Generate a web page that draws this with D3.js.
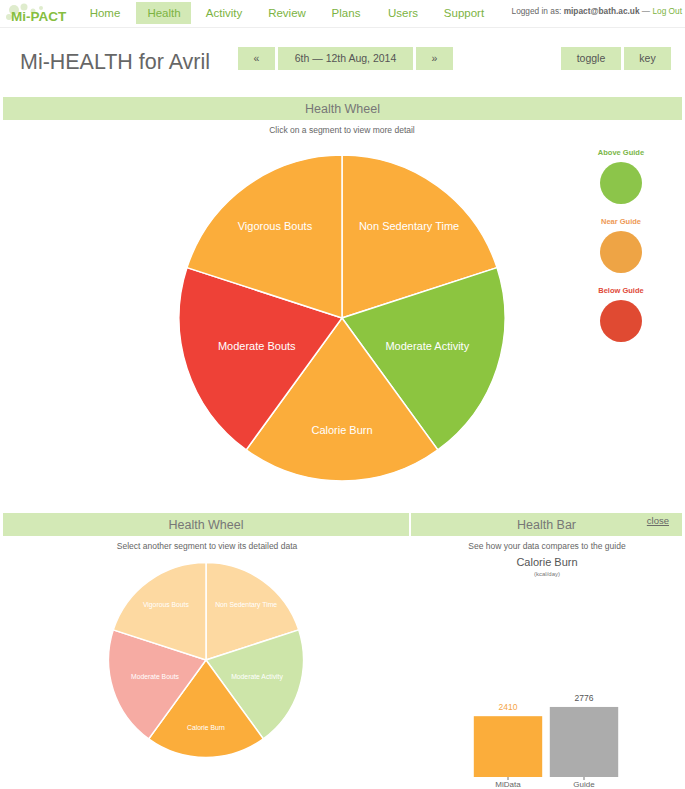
<!DOCTYPE html>
<html><head><meta charset="utf-8">
<script src="https://cdn.jsdelivr.net/npm/d3@7"></script>
<style>
html,body{margin:0;padding:0;background:#fff;}
svg{display:block;font-family:"Liberation Sans",Arial,sans-serif;}
</style></head><body>
<svg id="c" width="685" height="789"></svg>
<script>
// ---- data ----
const navItems = ["Home","Health","Activity","Review","Plans","Users","Support"];
const activeNav = "Health";
const segments = ["Non Sedentary Time","Moderate Activity","Calorie Burn","Moderate Bouts","Vigorous Bouts"];
const segmentStatus = ["near","above","near","below","near"];
const segmentWeights = [1,1,1,1,1];
const legendLabels = ["Above Guide","Near Guide","Below Guide"];
const legendKeys = ["above","near","below"];
const selectedSegment = "Calorie Burn";
const barCategories = ["MiData","Guide"];
const barValues = [2410, 2776];
const barUnit = "(kcal/day)";

// ---- styles ----
const full = {above:"#8cc540", near:"#fbad3b", below:"#ee4137"};
const pale = {above:"#cde5a9", near:"#fdd9a1", below:"#f6aba3"};
const legendCol = {above:"#8cc54a", near:"#eea445", below:"#e04a32"};
const legendText = {above:"#7ab648", near:"#ee9a55", below:"#e04a3a"};
const barCol = ["#fbad3b","#acacac"];
const barLabCol = ["#f5a446","#555"];
const green = "#d3e9b6";
const navGreen = "#7cb342";
const labelRadiusFactor = [0.7,0.55,0.69,0.55,0.7];

const svg = d3.select("#c");

// ---- nav ----
const logo = svg.append("g");
[[14,10,5],[24,7,3.5],[33,11,2.5],[41,8,2],[9,17,3]].forEach(d=>{
  logo.append("circle").attr("cx",d[0]).attr("cy",d[1]).attr("r",d[2]).attr("fill","#dfeccd");
});
logo.append("text").attr("x",11).attr("y",21).attr("font-size",13.5).attr("font-weight","bold")
  .attr("fill","#86be3f").text("Mi-PACT");
const navPos = {Home:105,Health:164,Activity:224,Review:287,Plans:346,Users:403,Support:464};
svg.append("rect").attr("x",136).attr("y",2).attr("width",55).attr("height",22).attr("fill",green);
svg.selectAll("text.nav").data(navItems).enter().append("text").attr("class","nav")
  .attr("x",d=>navPos[d]).attr("y",17).attr("text-anchor","middle").attr("font-size",11.5)
  .attr("fill",navGreen).text(d=>d);
const lg = svg.append("text").attr("x",682).attr("y",14).attr("text-anchor","end").attr("font-size",8.3).attr("fill","#666");
lg.append("tspan").text("Logged in as: ");
lg.append("tspan").attr("font-weight","bold").text("mipact@bath.ac.uk");
lg.append("tspan").text(" — ");
lg.append("tspan").attr("fill",navGreen).text("Log Out");
svg.append("line").attr("x1",0).attr("x2",685).attr("y1",27.5).attr("y2",27.5).attr("stroke","#eee");

// ---- title row ----
svg.append("text").attr("x",20).attr("y",69).attr("font-size",22).attr("fill","#666")
  .attr("textLength",190).attr("lengthAdjust","spacingAndGlyphs").text("Mi-HEALTH for Avril");
const buttons = [[238,37,"«"],[278,135,"6th — 12th Aug, 2014"],[416,37,"»"],[561,60,"toggle"],[624,47,"key"]];
buttons.forEach(b=>{
  svg.append("rect").attr("x",b[0]).attr("y",47).attr("width",b[1]).attr("height",23).attr("fill",green);
  svg.append("text").attr("x",b[0]+b[1]/2).attr("y",62).attr("text-anchor","middle").attr("font-size",10.5).attr("fill","#555").text(b[2]);
});

// ---- header bars ----
function header(x,w,y,label){
  svg.append("rect").attr("x",x).attr("y",y).attr("width",w).attr("height",23).attr("fill",green);
  svg.append("text").attr("x",x+w/2).attr("y",y+16).attr("text-anchor","middle").attr("font-size",12.5).attr("fill","#777").text(label);
}
header(3,679,97,"Health Wheel");
svg.append("text").attr("x",342).attr("y",133).attr("text-anchor","middle").attr("font-size",8.5).attr("fill","#666").text("Click on a segment to view more detail");

// ---- pies ----
const pie = d3.pie().sort(null).value((d,i)=>segmentWeights[i]);
const arcs = pie(segments);
function drawPie(cx,cy,r,colorFn,fontSize){
  const g = svg.append("g").attr("transform",`translate(${cx},${cy})`);
  const arc = d3.arc().innerRadius(0).outerRadius(r);
  g.selectAll("path").data(arcs).enter().append("path").attr("d",arc)
    .attr("fill",(d,i)=>colorFn(d,i)).attr("stroke","#fff").attr("stroke-width",1.5);
  g.selectAll("text").data(arcs).enter().append("text")
    .attr("transform",(d,i)=>{
      const rr = r*labelRadiusFactor[i];
      const lab = d3.arc().innerRadius(rr).outerRadius(rr);
      return `translate(${lab.centroid(d)})`;
    }).attr("text-anchor","middle").attr("dy","0.35em")
    .attr("font-size",fontSize).attr("fill","#fff").text(d=>d.data);
}
drawPie(342,318,163,(d,i)=>full[segmentStatus[i]],11);

// ---- legend ----
legendLabels.forEach((l,i)=>{
  const y0 = 152 + i*69;
  svg.append("text").attr("x",621).attr("y",y0+3).attr("text-anchor","middle").attr("font-size",7.5)
    .attr("font-weight","bold").attr("fill",legendText[legendKeys[i]]).text(l);
  svg.append("circle").attr("cx",621).attr("cy",y0+31).attr("r",21).attr("fill",legendCol[legendKeys[i]]);
});

// ---- bottom section ----
header(3,406,513,"Health Wheel");
header(411,271,513,"Health Bar");
svg.append("text").attr("x",669).attr("y",524).attr("text-anchor","end").attr("font-size",9.5)
  .attr("fill","#666").attr("text-decoration","underline").text("close");
svg.append("text").attr("x",207).attr("y",549).attr("text-anchor","middle").attr("font-size",8.5).attr("fill","#666").text("Select another segment to view its detailed data");
svg.append("text").attr("x",547).attr("y",549).attr("text-anchor","middle").attr("font-size",8.5).attr("fill","#666").text("See how your data compares to the guide");
svg.append("text").attr("x",547).attr("y",566).attr("text-anchor","middle").attr("font-size",11).attr("fill","#555").text(selectedSegment);
svg.append("text").attr("x",547).attr("y",576).attr("text-anchor","middle").attr("font-size",6).attr("fill","#777").text(barUnit);

drawPie(206,660,97.5,(d,i)=> d.data===selectedSegment ? full[segmentStatus[i]] : pale[segmentStatus[i]],6.8);

// ---- bars ----
const x = d3.scaleBand().domain(barCategories).range([470,622]).paddingInner(0.1).paddingOuter(0.05);
const y = d3.scaleLinear().domain([0,3000]).range([777,701.3]);
const bg = svg.append("g");
bg.selectAll("rect").data(barValues).enter().append("rect")
  .attr("x",(d,i)=>x(barCategories[i])).attr("width",x.bandwidth())
  .attr("y",d=>y(d)).attr("height",d=>y(0)-y(d)).attr("fill",(d,i)=>barCol[i]);
bg.selectAll("text.v").data(barValues).enter().append("text").attr("class","v")
  .attr("x",(d,i)=>x(barCategories[i])+x.bandwidth()/2).attr("y",d=>y(d)-6)
  .attr("text-anchor","middle").attr("font-size",8.5).attr("fill",(d,i)=>barLabCol[i]).text(d=>d);
const ax = svg.append("g").attr("transform",`translate(0,${y(0)})`)
  .call(d3.axisBottom(x).tickSize(3).tickPadding(1).tickSizeOuter(0));
ax.select(".domain").remove();
ax.selectAll(".tick line").attr("stroke","#777");
ax.selectAll(".tick text").attr("font-size",8).attr("fill","#666").attr("dy","0.7em")
  .attr("font-family","Liberation Sans, Arial, sans-serif");
</script>
</body></html>
